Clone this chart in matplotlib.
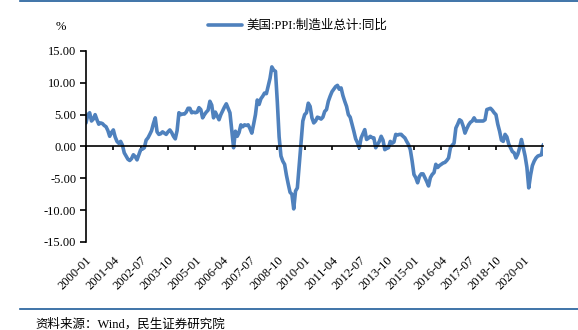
import matplotlib
matplotlib.use("Agg")
import matplotlib.pyplot as plt
from matplotlib.lines import Line2D
import numpy as np
import pandas as pd

plt.rcParams['font.family'] = ['Liberation Serif', 'Noto Sans CJK SC', 'DejaVu Sans']

series_name = "美国:PPI:制造业总计:同比"
start_month = "2000-01"
values_2000 = [3.7, 5.0, 5.3, 4.0, 4.3, 5.0, 4.2, 3.5, 3.7, 3.6, 3.3, 3.1]
values_2001 = [2.5, 1.6, 2.2, 2.6, 1.5, 0.8, 0.5, 0.8, 0.2, -1.0, -1.5, -2.0]
values_2002 = [-2.2, -1.9, -1.3, -1.6, -2.1, -1.3, -0.5, -0.4, -0.2, 1.0, 1.35, 1.9]
values_2003 = [2.5, 3.6, 4.5, 2.3, 1.9, 2.0, 2.3, 2.1, 1.9, 2.3, 2.6, 2.2]
values_2004 = [1.6, 1.2, 2.5, 5.3, 5.0, 5.1, 5.1, 5.4, 6.0, 6.0, 5.3, 5.4]
values_2005 = [5.3, 5.4, 6.1, 5.8, 4.5, 5.0, 5.4, 5.7, 7.1, 6.5, 4.5, 5.4]
values_2006 = [4.8, 4.2, 5.0, 5.6, 6.2, 6.7, 6.0, 5.3, 2.5, -0.2, 2.4, 1.6]
values_2007 = [2.2, 3.4, 3.1, 3.4, 3.3, 3.4, 2.8, 2.1, 3.5, 5.0, 7.3, 6.6]
values_2008 = [7.5, 7.9, 8.4, 8.3, 9.5, 10.7, 12.5, 12.0, 11.8, 7.0, 1.5, -1.5]
values_2009 = [-2.3, -2.8, -4.5, -5.9, -7.2, -7.5, -9.8, -7.0, -6.5, -3.0, 0.3, 4.0]
values_2010 = [5.0, 5.3, 6.8, 6.3, 4.5, 3.7, 4.0, 4.6, 4.5, 4.3, 4.6, 5.5]
values_2011 = [5.8, 7.1, 7.9, 8.6, 9.0, 9.4, 9.6, 9.0, 9.2, 8.0, 7.1, 6.3]
values_2012 = [5.0, 4.6, 3.5, 2.4, 1.2, 0.6, -0.2, 1.35, 2.0, 2.65, 1.1, 1.3]
values_2013 = [1.6, 1.4, 1.35, -0.2, 0.3, 0.8, 1.6, 1.0, -0.5, -0.3, -0.2, 0.8]
values_2014 = [0.5, 0.7, 1.9, 1.8, 1.9, 1.9, 1.6, 1.35, 0.8, 0.3, -0.5, -2.3]
values_2015 = [-4.4, -4.9, -5.7, -4.7, -4.3, -4.3, -4.9, -5.5, -6.2, -4.9, -4.4, -4.1]
values_2016 = [-2.8, -3.3, -3.0, -2.8, -2.6, -2.5, -2.2, -1.8, -0.2, 0.2, 0.5, 2.9]
values_2017 = [3.5, 4.2, 4.0, 3.2, 2.1, 2.8, 3.4, 3.8, 4.0, 4.5, 4.0, 4.0]
values_2018 = [4.0, 4.0, 4.0, 4.2, 5.8, 5.9, 6.0, 5.7, 5.3, 5.0, 3.5, 2.4]
values_2019 = [1.0, 0.8, 1.9, 1.5, 0.4, -0.2, -0.8, -1.0, -1.8, -1.2, -0.2, 1.1]
values_2020 = [-0.2, -1.5, -3.3, -6.5, -4.5, -3.0, -2.3, -1.8, -1.5, -1.4, -1.3, 0.3]

values = (values_2000 + values_2001 + values_2002 + values_2003 + values_2004 +
          values_2005 + values_2006 + values_2007 + values_2008 + values_2009 +
          values_2010 + values_2011 + values_2012 + values_2013 + values_2014 +
          values_2015 + values_2016 + values_2017 + values_2018 + values_2019 +
          values_2020)
months = pd.period_range(start_month, periods=len(values), freq="M")
month_labels = [str(p) for p in months]
tick_step = 15
y_ticks = [15, 10, 5, 0, -5, -10, -15]

fig = plt.figure(figsize=(5.78, 3.30), dpi=100)
ax = fig.add_axes([0.1488, 0.2667, 0.7912, 0.5788])
x = np.arange(len(values))
ax.plot(x, values, color='#4F81BD', linewidth=2.6, solid_joinstyle='round',
        solid_capstyle='round', label=series_name)

ax.set_xlim(0, len(values) - 1)
ax.set_ylim(-15, 15)
ax.set_yticks(y_ticks)
ax.set_yticklabels([f"{v:.2f}" for v in y_ticks], fontsize=9)
ax.tick_params(axis='y', direction='out', length=4, width=1.2, pad=3)

for s in ['top', 'right']:
    ax.spines[s].set_visible(False)
ax.spines['left'].set_linewidth(1.2)
ax.spines['bottom'].set_position(('data', 0))
ax.spines['bottom'].set_linewidth(1.2)

tick_pos = x[::tick_step]
ax.set_xticks(tick_pos)
ax.set_xticklabels([])
ax.tick_params(axis='x', direction='out', length=3, width=1.2)

sec = ax.secondary_xaxis(0.0)
sec.set_xticks(tick_pos)
sec.set_xticklabels([month_labels[i] for i in tick_pos], rotation=45,
                    ha='right', va='top', rotation_mode='anchor', fontsize=9)
sec.tick_params(axis='x', length=0, pad=9)
sec.spines['bottom'].set_visible(False)

fig.legend(loc='center', bbox_to_anchor=(0.515, 0.921), frameon=False,
           fontsize=9, handlelength=2.7, handletextpad=0.4)
fig.text(61 / 578, 1 - 27 / 330, "%", fontsize=9, ha='center', va='center')

line_color = '#1F5C99'
fig.add_artist(Line2D([20 / 578, 1.0], [1 - 1 / 330, 1 - 1 / 330],
                      color=line_color, linewidth=1.2))
fig.add_artist(Line2D([20 / 578, 1.0], [1 - 309 / 330, 1 - 309 / 330],
                      color=line_color, linewidth=1.2))
fig.text(35 / 578, 1 - 324 / 330, "资料来源：Wind，民生证券研究院", fontsize=9,
         ha='left', va='center')

fig.savefig("out.png", dpi=100)
